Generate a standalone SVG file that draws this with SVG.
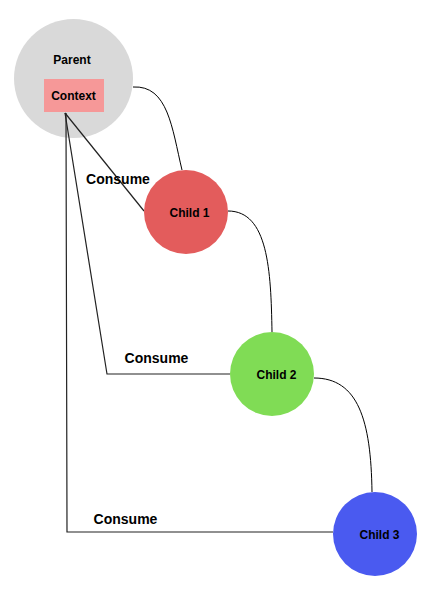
<svg xmlns="http://www.w3.org/2000/svg" width="441" height="609" viewBox="0 0 441 609">
<style>
.lbl{font-family:"Liberation Sans",Arial,sans-serif;font-weight:bold;font-size:12px;fill:#000;text-anchor:middle}
.cons{font-family:"Liberation Sans",Arial,sans-serif;font-weight:bold;font-size:14px;fill:#000;text-anchor:middle}
.edge{fill:none;stroke:#000;stroke-width:1}
.use{fill:none;stroke:#222;stroke-width:1.2}
</style>
<rect width="441" height="609" fill="#fff"/>
<g id="parent">
<circle cx="73.5" cy="78.5" r="59.5" fill="#d9d9d9"/>
<text class="lbl" x="72" y="64">Parent</text>
</g>
<g id="context">
<rect x="44" y="79" width="60" height="33" fill="#f69898"/>
<text class="lbl" x="73.5" y="100">Context</text>
</g>
<g id="connectors">
<path class="edge" d="M133,87 C168,85 172,128 182,170"/>
<path class="edge" d="M228,211 C268,211 271,270 272,332"/>
<path class="edge" d="M314,378 C358,378 371,420 372,492"/>
<path class="use" d="M65,113 L144,211"/>
<path class="use" d="M65,113 L107,374 L230,374"/>
<path class="use" d="M66,113 L67,532 L333,532"/>
</g>
<g id="child1">
<circle cx="186" cy="212" r="42" fill="#e35c5c"/>
<text class="lbl" x="189.5" y="217">Child 1</text>
</g>
<g id="child2">
<circle cx="272" cy="374" r="42" fill="#80dc55"/>
<text class="lbl" x="276.5" y="379">Child 2</text>
</g>
<g id="child3">
<circle cx="375" cy="534" r="42" fill="#4a5af0"/>
<text class="lbl" x="379.5" y="539">Child 3</text>
</g>
<g id="labels">
<text class="cons" x="118" y="184">Consume</text>
<text class="cons" x="156.5" y="363">Consume</text>
<text class="cons" x="125.5" y="524">Consume</text>
</g>
</svg>
